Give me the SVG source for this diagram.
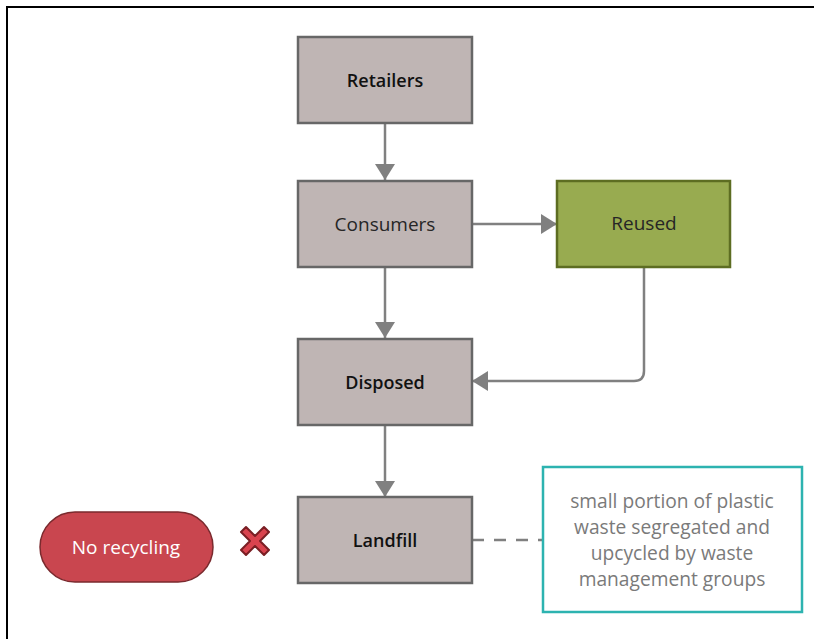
<svg xmlns="http://www.w3.org/2000/svg" width="819" height="639" viewBox="0 0 819 639">
  <style>
    .box { fill: #bfb5b4; stroke: #676767; stroke-width: 2.5; }
    .lbl { font-family: "Open Sans", "Noto Sans", sans-serif; font-size: 19px; fill: #262626; text-anchor: middle; dominant-baseline: central; }
    .bold { font-weight: 600; font-size: 18px; fill: #111111; }
    .edge { fill: none; stroke: #808080; stroke-width: 2.5; }
    .note { font-family: "Open Sans", "Noto Sans", sans-serif; font-size: 19.2px; fill: #7a7a7a; text-anchor: middle; }
  </style>
  <defs>
    <marker id="arrow" viewBox="0 0 16 20" refX="16" refY="10" markerWidth="6.4" markerHeight="8" markerUnits="strokeWidth" orient="auto">
      <path d="M0,0 L16,10 L0,20 Z" fill="#808080"/>
    </marker>
  </defs>
  <rect width="819" height="639" fill="#ffffff"/>
  <!-- page frame -->
  <path d="M7,639 V7 H814" fill="none" stroke="#000000" stroke-width="2"/>

  <g id="connectors">
    <path class="edge" d="M385,123 V180" marker-end="url(#arrow)"/>
    <path class="edge" d="M472,224 H557" marker-end="url(#arrow)"/>
    <path class="edge" d="M385,267 V338" marker-end="url(#arrow)"/>
    <path class="edge" d="M644,267 V371 Q644,381 634,381 H472" marker-end="url(#arrow)"/>
    <path class="edge" d="M385,425 V497" marker-end="url(#arrow)"/>
    <path d="M472,540 H543" fill="none" stroke="#808080" stroke-width="2.5" stroke-dasharray="12,10"/>
  </g>

  <g id="retailers">
    <rect class="box" x="298" y="37" width="174" height="86"/>
    <text class="lbl bold" x="385" y="80">Retailers</text>
  </g>
  <g id="consumers">
    <rect class="box" x="298" y="181" width="174" height="86"/>
    <text class="lbl" x="385" y="224">Consumers</text>
  </g>
  <g id="reused">
    <rect x="557" y="181" width="173" height="86" fill="#98ab50" stroke="#5d6d22" stroke-width="2.5"/>
    <text class="lbl" x="644" y="223">Reused</text>
  </g>
  <g id="disposed">
    <rect class="box" x="298" y="339" width="174" height="86"/>
    <text class="lbl bold" x="385" y="382">Disposed</text>
  </g>
  <g id="landfill">
    <rect class="box" x="298" y="497" width="174" height="86"/>
    <text class="lbl bold" x="385" y="540">Landfill</text>
  </g>
  <g id="no-recycling">
    <rect x="40" y="512" width="173" height="70" rx="35" ry="35" fill="#c9464f" stroke="#7a2a2e" stroke-width="1.5"/>
    <text class="lbl" x="126" y="547" style="fill:#ffffff">No recycling</text>
  </g>
  <g id="cross">
    <path d="M241,532 L246,527 L255,536 L264,527 L269,532 L260,541 L269,550 L264,555 L255,546 L246,555 L241,550 L250,541 Z" fill="#d9434e" stroke="#7a1f24" stroke-width="2" stroke-linejoin="round"/>
  </g>
  <g id="note">
    <rect x="543" y="467" width="259" height="145" fill="#ffffff" stroke="#2db3b0" stroke-width="2.5"/>
    <text class="note" x="672" y="508">small portion of plastic</text>
    <text class="note" x="672" y="534">waste segregated and</text>
    <text class="note" x="672" y="560">upcycled by waste</text>
    <text class="note" x="672" y="586">management groups</text>
  </g>
</svg>
